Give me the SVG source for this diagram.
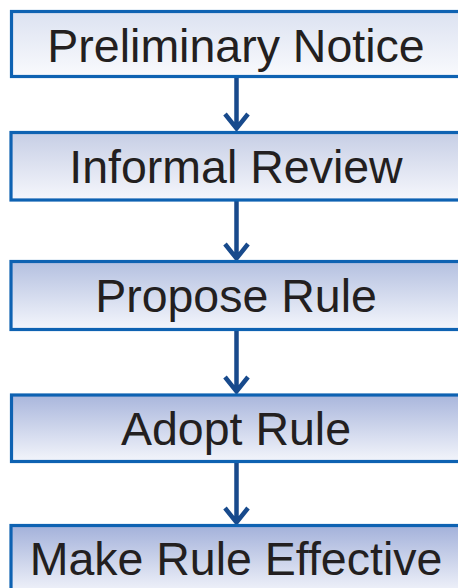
<svg xmlns="http://www.w3.org/2000/svg" width="458" height="588" viewBox="0 0 458 588">
<style>
.box{stroke:#0e62b2;stroke-width:3.2}
.lbl{font-family:"Liberation Sans",Arial,sans-serif;font-size:46.5px;fill:#231f20;text-anchor:middle}
.arr{stroke:#184a8c;stroke-width:4.5;fill:none;stroke-linecap:butt;stroke-linejoin:miter}
</style>
<defs>
<linearGradient id="g1" x1="0" y1="0" x2="0" y2="1"><stop offset="0" stop-color="#dce2f1"/><stop offset="1" stop-color="#f9fafd"/></linearGradient>
<linearGradient id="g2" x1="0" y1="0" x2="0" y2="1"><stop offset="0" stop-color="#c6cee5"/><stop offset="1" stop-color="#f6f7fc"/></linearGradient>
<linearGradient id="g3" x1="0" y1="0" x2="0" y2="1"><stop offset="0" stop-color="#b4c0e0"/><stop offset="1" stop-color="#f4f6fc"/></linearGradient>
<linearGradient id="g4" x1="0" y1="0" x2="0" y2="1"><stop offset="0" stop-color="#a9b6dc"/><stop offset="1" stop-color="#f3f5fb"/></linearGradient>
<linearGradient id="g5" x1="0" y1="0" x2="0" y2="1"><stop offset="0" stop-color="#a3b1da"/><stop offset="1" stop-color="#f1f3fa"/></linearGradient>
</defs>
<g id="connectors">
<path class="arr" d="M236.5 78V128M225 114L236.5 128.5L248 114"/>
<path class="arr" d="M236.5 201V258M225 244L236.5 258.5L248 244"/>
<path class="arr" d="M236.5 331V391M225 377L236.5 391.5L248 377"/>
<path class="arr" d="M236.5 463V522M225 508L236.5 522.5L248 508"/>
</g>
<g id="n1"><rect class="box" x="11.5" y="11.5" width="460" height="65" fill="url(#g1)"/><text class="lbl" x="236" y="62">Preliminary Notice</text></g>
<g id="n2"><rect class="box" x="11" y="132.5" width="460" height="67.5" fill="url(#g2)"/><text class="lbl" x="236" y="183">Informal Review</text></g>
<g id="n3"><rect class="box" x="11" y="261.5" width="460" height="68" fill="url(#g3)"/><text class="lbl" x="236" y="312">Propose Rule</text></g>
<g id="n4"><rect class="box" x="11.5" y="395" width="460" height="66.5" fill="url(#g4)"/><text class="lbl" x="236" y="445">Adopt Rule</text></g>
<g id="n5"><rect class="box" x="11" y="525.5" width="460" height="67" fill="url(#g5)"/><text class="lbl" x="236" y="575">Make Rule Effective</text></g>
</svg>
